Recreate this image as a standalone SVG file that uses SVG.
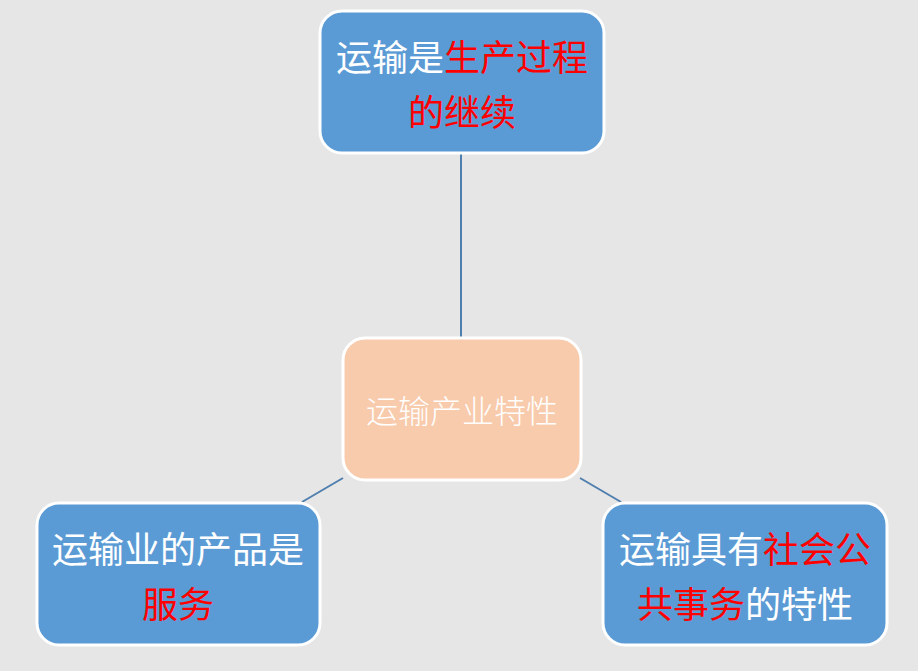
<svg xmlns="http://www.w3.org/2000/svg" width="918" height="671" viewBox="0 0 918 671">
<style>
.bg{fill:#e7e6e6}
.box{fill:#5b9bd5;stroke:#ffffff;stroke-width:3}
.core{fill:#f8cbad;stroke:#ffffff;stroke-width:3}
.t{font-family:"Noto Sans CJK SC","Liberation Sans",sans-serif;font-size:36px;fill:#ffffff;text-anchor:middle;dominant-baseline:central}
.ct{font-family:"Noto Sans CJK SC","Liberation Sans",sans-serif;font-size:32px;font-weight:300;fill:#ffffff;text-anchor:middle;dominant-baseline:central}
.r{fill:#ff0000}
.link{stroke:#4f7fae;stroke-width:2;fill:none}
</style>
<rect class="bg" x="0" y="0" width="918" height="671"/>
<g id="connectors">
<line class="link" x1="461" y1="153" x2="461" y2="339"/>
<line class="link" x1="343" y1="478" x2="302" y2="502"/>
<line class="link" x1="580" y1="478" x2="621" y2="502"/>
</g>
<g id="node-top">
<rect class="box" x="320" y="11" width="284" height="142" rx="22"/>
<text class="t" x="462" y="55">运输是<tspan class="r">生产过程</tspan></text>
<text class="t r" x="462" y="110">的继续</text>
</g>
<g id="node-center">
<rect class="core" x="343" y="338" width="238" height="142" rx="22"/>
<text class="ct" x="462" y="409">运输产业特性</text>
</g>
<g id="node-left">
<rect class="box" x="37" y="503" width="283" height="142" rx="22"/>
<text class="t" x="178" y="547">运输业的产品是</text>
<text class="t r" x="178" y="602">服务</text>
</g>
<g id="node-right">
<rect class="box" x="603" y="503" width="284" height="142" rx="22"/>
<text class="t" x="745" y="547">运输具有<tspan class="r">社会公</tspan></text>
<text class="t" x="745" y="602"><tspan class="r">共事务</tspan>的特性</text>
</g>
</svg>
